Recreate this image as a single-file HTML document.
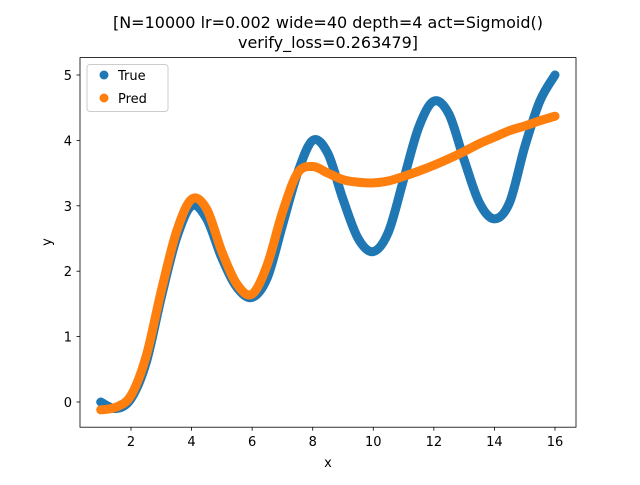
<!DOCTYPE html>
<html><head><meta charset="utf-8"><style>
body{margin:0;background:#fff;font-family:"Liberation Sans","DejaVu Sans",sans-serif}
svg text{font-family:"DejaVu Sans","Liberation Sans",sans-serif;fill:#000}
</style></head><body>
<svg id="c" width="640" height="480" viewBox="0 0 640 480"></svg>
<script>
const xs=[1,1.5,2,2.5,3,3.5,4,4.5,5,5.5,6,6.5,7,7.5,8,8.5,9,9.5,10,10.5,11,11.5,12,12.5,13,13.5,14,14.5,15,15.5,16];
const trueY=[0,-0.1,0.05,0.6,1.6,2.5,3.0,2.8,2.2,1.75,1.6,1.9,2.7,3.5,4.0,3.8,3.1,2.5,2.3,2.6,3.4,4.2,4.6,4.4,3.7,3.05,2.8,3.05,3.9,4.6,5.0];
const predY=[-0.12,-0.08,0.1,0.7,1.7,2.6,3.1,2.95,2.3,1.8,1.65,2.1,2.9,3.5,3.6,3.5,3.4,3.36,3.35,3.38,3.45,3.53,3.62,3.72,3.83,3.95,4.05,4.15,4.22,4.3,4.37];
const xTicks=[2,4,6,8,10,12,14,16];
const yTicks=[0,1,2,3,4,5];
const L=80,R=576,T=57.6,B=427.2;
const sx=v=>131+(v-2)*(424/14);
const sy=v=>402-v*(327/5);
const svg=document.getElementById('c');
const NS='http://www.w3.org/2000/svg';
function mk(t,a,p){const e=document.createElementNS(NS,t);for(const k in a)e.setAttribute(k,a[k]);(p||svg).appendChild(e);return e;}
function path(ys){
  const P=xs.map((x,i)=>[sx(x),sy(ys[i])]);
  let d='M'+P[0][0]+','+P[0][1];
  for(let i=0;i<P.length-1;i++){
    const p0=P[Math.max(0,i-1)],p1=P[i],p2=P[i+1],p3=P[Math.min(P.length-1,i+2)];
    const c1=[p1[0]+(p2[0]-p0[0])/6,p1[1]+(p2[1]-p0[1])/6];
    const c2=[p2[0]-(p3[0]-p1[0])/6,p2[1]-(p3[1]-p1[1])/6];
    d+=` C${c1[0]},${c1[1]} ${c2[0]},${c2[1]} ${p2[0]},${p2[1]}`;
  }
  return d;
}
let e;
e=mk('path',{d:path(trueY),fill:'none',stroke:'#1f77b4','stroke-width':9,'stroke-linecap':'round','stroke-linejoin':'round'});


e=mk('path',{d:path(predY),fill:'none',stroke:'#ff7f0e','stroke-width':9,'stroke-linecap':'round','stroke-linejoin':'round'});


e=mk('rect',{x:L,y:T,width:R-L,height:B-T,fill:'none',stroke:'#000','stroke-width':0.8});


xTicks.forEach(v=>{
  mk('line',{x1:sx(v),x2:sx(v),y1:B,y2:B+3.5,stroke:'#000','stroke-width':0.8});
  e=mk('text',{x:sx(v),y:B+19,'font-size':13,'text-anchor':'middle'});e.textContent=v;
  
  
});
yTicks.forEach(v=>{
  mk('line',{x1:L-3.5,x2:L,y1:sy(v),y2:sy(v),stroke:'#000','stroke-width':0.8});
  e=mk('text',{x:L-8,y:sy(v)+5,'font-size':13,'text-anchor':'end'});e.textContent=v;
  
  
});
e=mk('text',{x:328,y:467,'font-size':13,'text-anchor':'middle'});e.textContent='x';


e=mk('text',{x:51,y:242,'font-size':13,'text-anchor':'middle',transform:'rotate(-90 51 242)'});e.textContent='y';


e=mk('text',{x:328,y:28,'font-size':16,'text-anchor':'middle'});e.textContent='[N=10000 lr=0.002 wide=40 depth=4 act=Sigmoid()';


e=mk('text',{x:328,y:48,'font-size':16,'text-anchor':'middle'});e.textContent='verify_loss=0.263479]';


const lg=mk('g',{});


mk('rect',{x:87,y:64.5,width:81,height:47,rx:3,fill:'#fff','fill-opacity':0.8,stroke:'#ccc'},lg);
mk('circle',{cx:104,cy:75,r:4.5,fill:'#1f77b4'},lg);
e=mk('text',{x:118,y:80,'font-size':13},lg);e.textContent='True';


mk('circle',{cx:104,cy:98,r:4.5,fill:'#ff7f0e'},lg);
e=mk('text',{x:118,y:103,'font-size':13},lg);e.textContent='Pred';


</script>
</body></html>
